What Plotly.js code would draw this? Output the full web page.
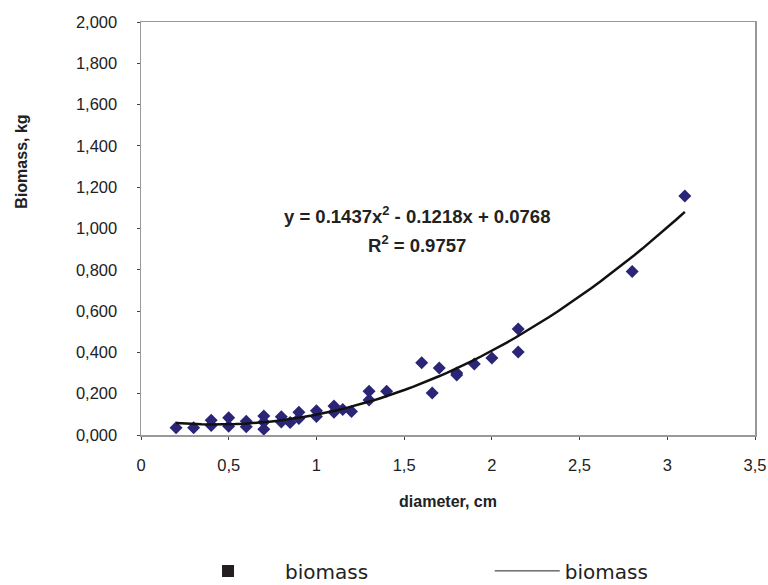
<!DOCTYPE html>
<html>
<head>
<meta charset="utf-8">
<script src="https://cdn.plot.ly/plotly-3.0.1.min.js"></script>
<style>html,body{margin:0;padding:0;background:#fff;}#chart{width:768px;height:585px;}</style>
</head>
<body>
<div id="chart"></div>
<script>
// Observed data (diameter, cm -> biomass, kg)
var diameter = [0.2, 0.3, 0.4, 0.4, 0.5, 0.5, 0.6, 0.6, 0.7, 0.7, 0.7, 0.8, 0.8, 0.85, 0.9, 0.9,
                1.0, 1.0, 1.1, 1.1, 1.15, 1.2, 1.3, 1.3, 1.4, 1.6, 1.66, 1.7, 1.8, 1.8, 1.9, 2.0,
                2.15, 2.15, 2.8, 3.1];
var biomass  = [0.035, 0.035, 0.072, 0.046, 0.084, 0.042, 0.066, 0.040, 0.092, 0.063, 0.028, 0.088, 0.063, 0.060, 0.110, 0.080,
                0.118, 0.090, 0.140, 0.110, 0.124, 0.114, 0.212, 0.170, 0.212, 0.350, 0.203, 0.324, 0.300, 0.290, 0.344, 0.373,
                0.513, 0.402, 0.792, 1.157];
// Trendline coefficients shown on the chart: y = a x^2 + b x + c
var trendCoef = [0.1437, -0.1218, 0.0768];
var trendRange = [0.2, 3.1];
var xTicks = [0, 0.5, 1, 1.5, 2, 2.5, 3, 3.5];
var yTicks = [0, 0.2, 0.4, 0.6, 0.8, 1.0, 1.2, 1.4, 1.6, 1.8, 2.0];

var tx = [], ty = [];
var n = 60;
for (var i = 0; i <= n; i++) {
  var x = trendRange[0] + (trendRange[1] - trendRange[0]) * i / n;
  tx.push(x);
  ty.push(trendCoef[0] * x * x + trendCoef[1] * x + trendCoef[2]);
}

var traces = [
  {x: diameter, y: biomass, type: 'scatter', mode: 'markers', showlegend: false,
   marker: {symbol: 'diamond', size: 10, color: '#2b2577'}},
  {x: tx, y: ty, type: 'scatter', mode: 'lines', showlegend: false,
   line: {color: '#111111', width: 2.5}},
  {x: [null], y: [null], type: 'scatter', mode: 'markers', name: 'biomass', legend: 'legend',
   marker: {symbol: 'square', size: 12, color: '#231f20'}},
  {x: [null], y: [null], type: 'scatter', mode: 'lines', name: 'biomass', legend: 'legend2',
   line: {color: '#231f20', width: 1}}
];

var legendFont = {family: 'DejaVu Sans, sans-serif', size: 20, color: '#222'};

var layout = {
  width: 768, height: 585,
  margin: {l: 141, r: 13, t: 22, b: 150, autoexpand: false},
  paper_bgcolor: '#ffffff', plot_bgcolor: '#ffffff',
  separators: ',.',
  font: {family: 'Liberation Sans, Arial, sans-serif', color: '#222222', size: 14},
  xaxis: {
    range: [0, 3.5], tickvals: xTicks, showgrid: false, zeroline: false,
    showline: true, mirror: true, linecolor: '#999999', linewidth: 1.5,
    ticks: 'outside', ticklen: 3, tickcolor: '#444', tickwidth: 1,
    ticklabelstandoff: 12,
    tickfont: {size: 16.5, color: '#222'},
    title: {text: '<b>diameter, cm</b>', font: {size: 16, color: '#222'}, standoff: 22}
  },
  yaxis: {
    range: [0, 2.0], tickvals: yTicks, tickformat: '.3f', showgrid: false, zeroline: false,
    showline: true, mirror: true, linecolor: '#999999', linewidth: 1.5,
    ticks: 'outside', ticklen: 3, tickcolor: '#444', tickwidth: 1,
    ticklabelstandoff: 16,
    tickfont: {size: 16.5, color: '#222'}
  },
  legend: {
    orientation: 'h', x: 0.0489, xanchor: 'left', y: -0.329, yanchor: 'middle',
    font: legendFont, itemwidth: 104, bgcolor: 'rgba(0,0,0,0)'
  },
  legend2: {
    orientation: 'h', x: 0.568, xanchor: 'left', y: -0.329, yanchor: 'middle',
    font: legendFont, itemwidth: 65, bgcolor: 'rgba(0,0,0,0)'
  },
  annotations: [
    {xref: 'paper', yref: 'paper', x: 0.449, y: 0.533, showarrow: false,
     text: '<b>y = 0.1437x<sup>2</sup> - 0.1218x + 0.0768</b>', font: {size: 18.5, color: '#222'}},
    {xref: 'paper', yref: 'paper', x: 0.449, y: 0.463, showarrow: false,
     text: '<b>R<sup>2</sup> = 0.9757</b>', font: {size: 18.5, color: '#222'}},
    {xref: 'paper', yref: 'paper', x: -0.196, y: 0.661, xanchor: 'center', yanchor: 'middle',
     showarrow: false, textangle: -90,
     text: '<b>Biomass, kg</b>', font: {size: 16, color: '#222'}}
  ]
};

Plotly.newPlot('chart', traces, layout, {displayModeBar: false, staticPlot: true});
</script>
</body>
</html>
